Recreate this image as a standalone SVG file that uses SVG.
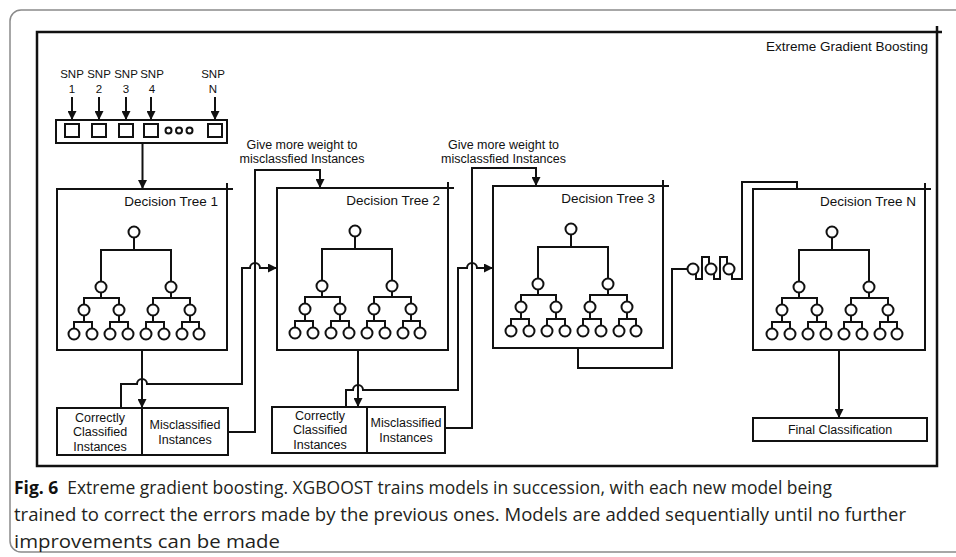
<svg xmlns="http://www.w3.org/2000/svg" xmlns:xlink="http://www.w3.org/1999/xlink" width="956" height="557" viewBox="0 0 956 557">
  <style>
    .ln { fill: none; stroke: #111; stroke-width: 2; }
    .box { fill: #fff; stroke: #111; stroke-width: 2; }
    .frame { fill: none; stroke: #111; stroke-width: 2.5; }
    .nd { fill: #fff; stroke: #111; stroke-width: 2; }
    .t { font-family: "Liberation Sans", Arial, sans-serif; fill: #111; }
    .dt { font-size: 13.5px; text-anchor: end; }
    .lb { font-size: 12.5px; text-anchor: middle; }
    .snp { font-size: 11.5px; text-anchor: middle; }
    .cap { font-family: "Open Sans", "Noto Sans", sans-serif; font-size: 17.5px; fill: #231f20; }
  </style>
  <defs>
    <marker id="arr" viewBox="0 0 10 10" refX="10" refY="5" markerWidth="9" markerHeight="9" markerUnits="userSpaceOnUse" orient="auto">
      <path d="M0,0 L10,5 L0,10 z" fill="#111"/>
    </marker>
    <!-- binary tree glyph, origin at the root node -->
    <g id="tree">
      <path class="ln" d="M0,5.5 V18 M-33,49.5 V18 H37 V49.5
        M-33,60.5 V66 M-50,72.5 V66 H-15 V72.5
        M37,60.5 V66 M19,72.5 V66 H56 V72.5
        M-50,83.5 V90 M-60,96.5 V90 H-42 V96.5
        M-15,83.5 V90 M-24,96.5 V90 H-6 V96.5
        M19,83.5 V90 M12,96.5 V90 H30 V96.5
        M56,83.5 V90 M48,96.5 V90 H65 V96.5"/>
      <circle class="nd" cx="0" cy="0" r="5.5"/>
      <circle class="nd" cx="-33" cy="55" r="5.5"/>
      <circle class="nd" cx="37" cy="55" r="5.5"/>
      <circle class="nd" cx="-50" cy="78" r="5.5"/>
      <circle class="nd" cx="-15" cy="78" r="5.5"/>
      <circle class="nd" cx="19" cy="78" r="5.5"/>
      <circle class="nd" cx="56" cy="78" r="5.5"/>
      <circle class="nd" cx="-60" cy="102" r="5.5"/>
      <circle class="nd" cx="-42" cy="102" r="5.5"/>
      <circle class="nd" cx="-24" cy="102" r="5.5"/>
      <circle class="nd" cx="-6" cy="102" r="5.5"/>
      <circle class="nd" cx="12" cy="102" r="5.5"/>
      <circle class="nd" cx="30" cy="102" r="5.5"/>
      <circle class="nd" cx="48" cy="102" r="5.5"/>
      <circle class="nd" cx="65" cy="102" r="5.5"/>
    </g>
  </defs>

  <rect width="956" height="557" fill="#fff"/>
  <!-- figure card -->
  <rect x="10" y="10" width="970" height="542" rx="11" fill="none" stroke="#8a8a8a" stroke-width="1.5"/>

  <!-- boosting frame -->
  <g id="frame">
    <rect class="frame" x="37" y="32" width="900" height="434"/>
    <path class="frame" d="M937,32 H942 M937,32 V26"/>
    <text class="t dt" x="928" y="51">Extreme Gradient Boosting</text>
  </g>

  <!-- SNP input vector -->
  <g id="snp-input">
    <text class="t snp" x="72" y="78">SNP</text>
    <text class="t snp" x="72" y="93">1</text>
    <text class="t snp" x="99" y="78">SNP</text>
    <text class="t snp" x="99" y="93">2</text>
    <text class="t snp" x="126" y="78">SNP</text>
    <text class="t snp" x="126" y="93">3</text>
    <text class="t snp" x="152" y="78">SNP</text>
    <text class="t snp" x="152" y="93">4</text>
    <text class="t snp" x="213" y="78">SNP</text>
    <text class="t snp" x="213" y="93">N</text>
    <rect class="box" x="56" y="120" width="171" height="23"/>
    <rect class="box" x="65" y="124" width="14" height="13"/>
    <rect class="box" x="92" y="124" width="14" height="13"/>
    <rect class="box" x="119" y="124" width="14" height="13"/>
    <rect class="box" x="144" y="124" width="14" height="13"/>
    <rect class="box" x="208" y="124" width="14" height="13"/>
    <circle class="nd" cx="168.5" cy="130.5" r="3"/>
    <circle class="nd" cx="179" cy="130.5" r="3"/>
    <circle class="nd" cx="189.5" cy="130.5" r="3"/>
  </g>

  <!-- decision trees -->
  <g id="tree1">
    <rect class="box" x="57" y="189" width="170" height="161"/>
    <path class="ln" d="M227,189 H233 M227,189 V183"/>
    <text class="t dt" x="218" y="206">Decision Tree 1</text>
    <use xlink:href="#tree" href="#tree" transform="translate(134,232)"/>
  </g>
  <g id="tree2">
    <rect class="box" x="277" y="188" width="171" height="162"/>
    <path class="ln" d="M448,188 H454 M448,188 V182"/>
    <text class="t dt" x="440" y="205">Decision Tree 2</text>
    <use xlink:href="#tree" href="#tree" transform="translate(355,231)"/>
  </g>
  <g id="tree3">
    <rect class="box" x="493" y="186" width="170" height="162"/>
    <path class="ln" d="M663,186 H669 M663,186 V180"/>
    <text class="t dt" x="655" y="203">Decision Tree 3</text>
    <use xlink:href="#tree" href="#tree" transform="translate(571,229)"/>
  </g>
  <g id="treeN">
    <rect class="box" x="753" y="189" width="172" height="161"/>
    <path class="ln" d="M925,189 H931 M925,189 V183"/>
    <text class="t dt" x="916" y="206">Decision Tree N</text>
    <use xlink:href="#tree" href="#tree" transform="translate(832,232)"/>
  </g>

  <!-- split results -->
  <g id="split1">
    <rect class="box" x="57" y="408" width="171" height="47"/>
    <path class="ln" d="M142,408 V455"/>
    <text class="t lb" x="100" y="421.5">Correctly</text>
    <text class="t lb" x="100" y="436">Classified</text>
    <text class="t lb" x="100" y="450.5">Instances</text>
    <text class="t lb" x="185" y="428.5">Misclassified</text>
    <text class="t lb" x="185" y="443.5">Instances</text>
  </g>
  <g id="split2">
    <rect class="box" x="272" y="407" width="173" height="46"/>
    <path class="ln" d="M367,407 V453"/>
    <text class="t lb" x="320" y="419.5">Correctly</text>
    <text class="t lb" x="320" y="434">Classified</text>
    <text class="t lb" x="320" y="448.5">Instances</text>
    <text class="t lb" x="406" y="426.5">Misclassified</text>
    <text class="t lb" x="406" y="442">Instances</text>
  </g>
  <g id="final">
    <rect class="box" x="753" y="418" width="174" height="23"/>
    <text class="t lb" x="840" y="434">Final Classification</text>
  </g>

  <!-- weighting notes -->
  <g id="note1">
    <text class="t lb" x="302" y="149">Give more weight to</text>
    <text class="t lb" x="302" y="163">misclassfied Instances</text>
  </g>
  <g id="note2">
    <text class="t lb" x="503.5" y="149">Give more weight to</text>
    <text class="t lb" x="503.5" y="163">misclassfied Instances</text>
  </g>

  <!-- connectors -->
  <g id="connectors">
    <path class="ln" d="M72,97 V120" marker-end="url(#arr)"/>
    <path class="ln" d="M99,97 V120" marker-end="url(#arr)"/>
    <path class="ln" d="M126,97 V120" marker-end="url(#arr)"/>
    <path class="ln" d="M151,97 V120" marker-end="url(#arr)"/>
    <path class="ln" d="M215,97 V120" marker-end="url(#arr)"/>
    <path class="ln" d="M142.5,143 V189" marker-end="url(#arr)"/>
    <path class="ln" d="M142,350 V408" marker-end="url(#arr)"/>
    <path class="ln" d="M121,408 V384 H137 A5,5 0 0 1 147,384 H242 V268 H250 A5,5 0 0 1 260,268 H277" marker-end="url(#arr)"/>
    <path class="ln" d="M228,432 H255 V170 H320 V188" marker-end="url(#arr)"/>
    <path class="ln" d="M358,350 V407" marker-end="url(#arr)"/>
    <path class="ln" d="M346,407 V390 H353 A5,5 0 0 1 363,390 H458 V268 H467 A5,5 0 0 1 477,268 H493" marker-end="url(#arr)"/>
    <path class="ln" d="M445,428 H472 V168 H536 V186" marker-end="url(#arr)"/>
    <path class="ln" d="M578,348 V368 H672 V269 H688
      M696,273 V279 H702 V257 H709 V265
      M714,273 V279 H720 V257 H727 V265
      M732,273 V279 H742 V182 H797 V189"/>
    <circle class="nd" cx="693" cy="269" r="5.5"/>
    <circle class="nd" cx="711" cy="269" r="5.5"/>
    <circle class="nd" cx="729" cy="269" r="5.5"/>
    <path class="ln" d="M839,350 V418" marker-end="url(#arr)"/>
  </g>

  <!-- caption -->
  <text class="cap" x="14" y="494" textLength="818" lengthAdjust="spacingAndGlyphs"><tspan font-weight="bold" fill="#111">Fig. 6</tspan><tspan dx="9">Extreme gradient boosting. XGBOOST trains models in succession, with each new model being</tspan></text>
  <text class="cap" x="14" y="521" textLength="892" lengthAdjust="spacingAndGlyphs">trained to correct the errors made by the previous ones. Models are added sequentially until no further</text>
  <text class="cap" x="14" y="548" textLength="266" lengthAdjust="spacingAndGlyphs">improvements can be made</text>
</svg>
